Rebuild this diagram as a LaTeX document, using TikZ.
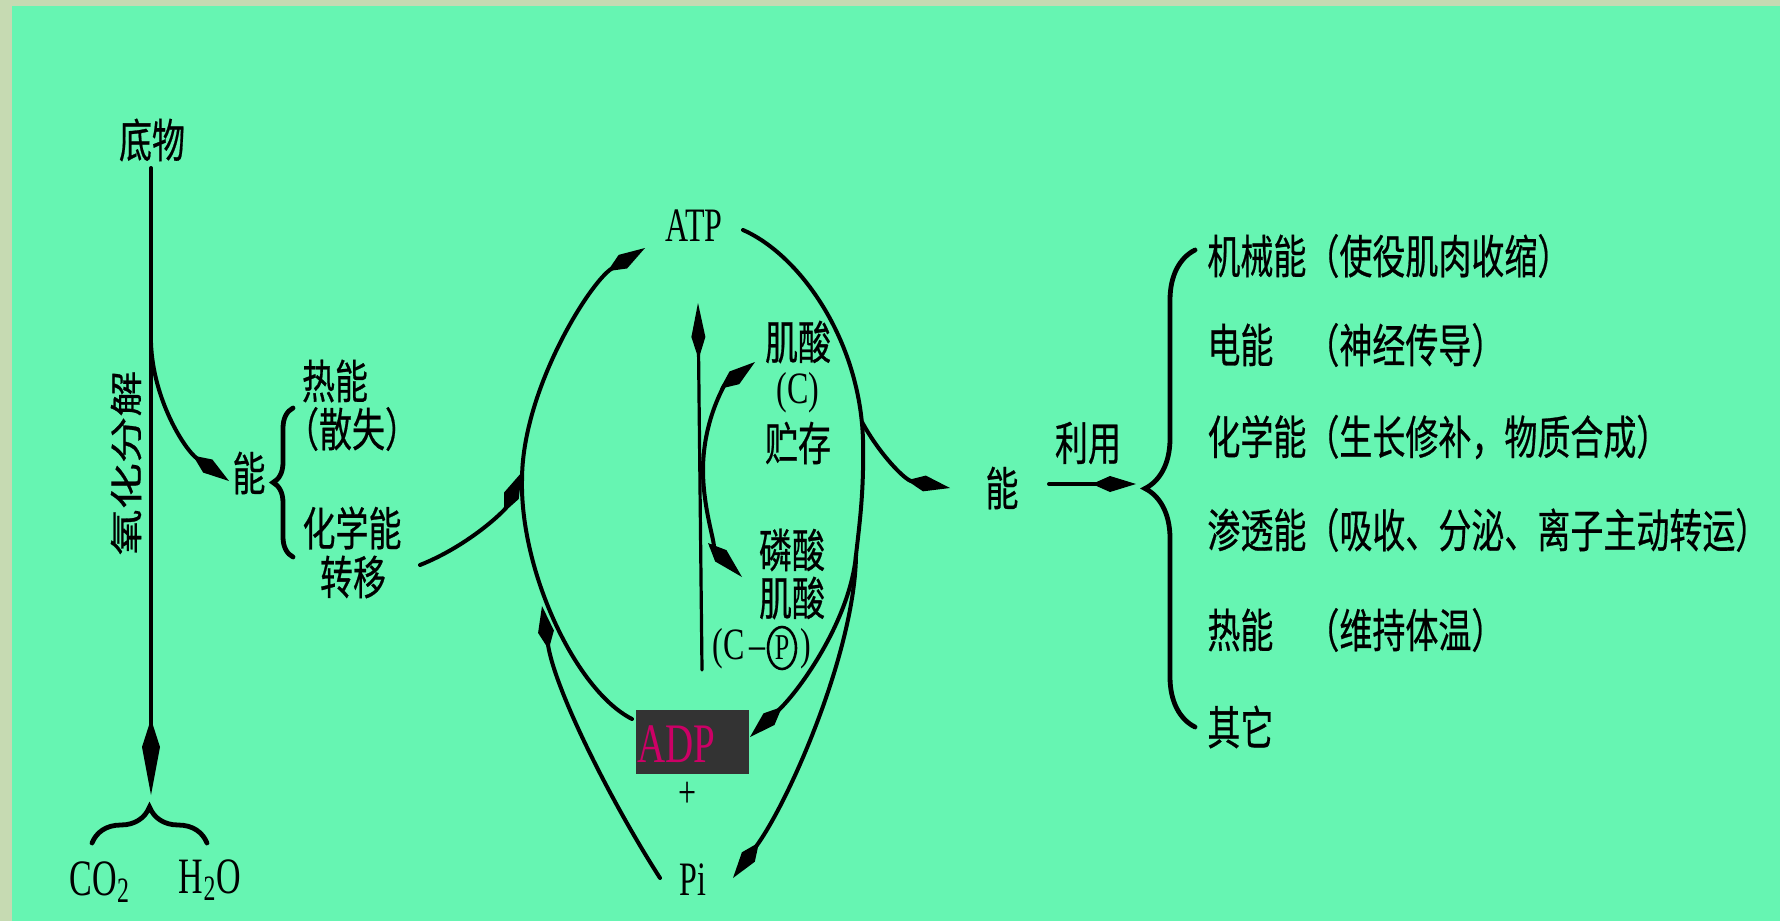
\documentclass[tikz,border=0pt]{standalone}
\usepackage{fontspec}
\usepackage{graphicx}
\setmainfont{Liberation Serif}
\newfontfamily\cjk[FakeBold=0.6]{Noto Sans CJK SC}
\usetikzlibrary{arrows.meta,decorations.pathreplacing,shapes.geometric}
\definecolor{bgg}{RGB}{102,245,178}
\definecolor{framec}{RGB}{198,218,178}
\definecolor{adpbox}{RGB}{51,51,51}
\definecolor{adptxt}{RGB}{204,0,102}
\newcommand\ST[1]{\scalebox{1}[1.4]{#1}}
\newcommand\SL[1]{\scalebox{1}[1.5]{#1}}
\begin{document}
\begin{tikzpicture}[x=0.5pt,y=-0.5pt,
  cj/.style={font=\cjk\fontsize{16.5pt}{20pt}\selectfont, inner sep=0pt},
  lt/.style={font=\fontsize{16pt}{19pt}\selectfont, inner sep=0pt},
  ln/.style={line width=2pt, line cap=round},
  ar/.style={ln, -{Kite[length=22pt,width=8pt,inset=9pt]}},
  arlong/.style={ln, -{Kite[length=38pt,width=9pt,inset=14pt]}},
  arthin/.style={line width=1.6pt, line cap=round, -{Kite[length=28pt,width=7pt,inset=11pt]}},
  br/.style={decorate, line width=2.4pt, line cap=round}
]
\useasboundingbox (0,0) rectangle (1780,921);
\fill[framec] (0,0) rectangle (1780,921);
\fill[bgg] (12,6) rectangle (1780,921);

% ---------- left part ----------
\node[cj] (sub) at (152,140) {\ST{底物}};
\node[cj, rotate=90] (ox) at (126,463) {\scalebox{1.4}[1]{氧化分解}};
\node[cj] (nengL) at (249,473) {\ST{能}};
\node[cj] (heat) at (335,381) {\ST{热能}};
\node[cj] (heat2) at (352,429) {\ST{（散失）}};
\node[cj] (chem) at (352,528) {\ST{化学能}};
\node[cj] (chem2) at (353,577) {\ST{转移}};
\node[lt, font=\fontsize{17pt}{19pt}\selectfont] (co2) at (100,882) {\SL{CO\textsubscript{2}}};
\node[lt, font=\fontsize{17pt}{19pt}\selectfont] (h2o) at (210,880) {\SL{H\textsubscript{2}O}};

\coordinate (v0) at (151,168);
\coordinate (vb) at (151,343);
\coordinate (v1) at (151,795);
\coordinate (nL) at (229,481);
\draw[arlong] (v0) -- (v1);
\draw[ar] (vb) .. controls (153,400) and (185,450) .. (nL);
\draw[br, decoration={brace, amplitude=10pt}] (293,557) -- (293,408);
\draw[br, decoration={brace, amplitude=18pt}] (92,843) -- (207,843);

% ---------- middle part ----------
\node[lt] (atp) at (694,226) {\SL{ATP}};
\node[cj] (cr1) at (798,342) {\ST{肌酸}};
\node[lt] (crc) at (798,393) {\ST{(C)}};
\node[cj] (cr3) at (798,443) {\ST{贮存}};
\node[cj] (pc1) at (792,550) {\ST{磷酸}};
\node[cj] (pc2) at (792,598) {\ST{肌酸}};
\node[lt] (cpa) at (739,649) {\ST{(C\,–}};
\node[draw, ellipse, line width=1.3pt, inner sep=0pt, minimum width=14pt, minimum height=21pt,
      font=\fontsize{13pt}{15pt}\selectfont] (cpp) at (782,648) {\ST{P}};
\node[lt] (cpc) at (806,649) {\ST{)}};

\node[fill=adpbox, anchor=north west, inner xsep=0.5pt, inner ysep=0pt,
      text width=55.5pt, align=left, minimum height=32pt,
      text height=20.5pt, text depth=0pt,
      text=adptxt, font=\fontsize{19.5pt}{21pt}\selectfont] (adp) at (636,710) {\scalebox{1}[1.43]{ADP}};
\node[lt] (plus) at (688,795) {\ST{+}};
\node[lt] (pi) at (693,880) {\SL{Pi}};

\coordinate (adpL) at (632,719);
\coordinate (elL) at (522,480);
\coordinate (atpL) at (645,248);
\draw[ar] (adpL) .. controls (575,690) and (520,570) .. (elL) .. controls (522,390) and (590,282) .. (atpL);

\coordinate (tr0) at (420,565);
\coordinate (tr1) at (522,472);
\draw[ar] (tr0) .. controls (470,545) and (505,510) .. (tr1);

\coordinate (piL) at (660,878);
\coordinate (piT) at (542,606);
\draw[ar] (piL) .. controls (610,800) and (555,690) .. (piT);

\coordinate (atpR) at (743,230);
\coordinate (rS) at (856,555);
\coordinate (rB) at (862,422);
\coordinate (nR) at (950,488);
\coordinate (adpR) at (750,737);
\coordinate (piR) at (733,878);
\draw[ln] (atpR) .. controls (800,255) and (860,340) .. (863,440) .. controls (864,490) and (860,520) .. (rS);
\draw[ar] (rS) .. controls (850,620) and (800,690) .. (adpR);
\draw[ar] (rS) .. controls (855,650) and (790,800) .. (piR);
\draw[ar] (rB) .. controls (880,455) and (905,480) .. (nR);

\coordinate (c0) at (702,670);
\coordinate (c1) at (698,303);
\draw[arthin] (c0) -- (c1);

\coordinate (sU) at (755,362);
\coordinate (sM) at (703,470);
\coordinate (sD) at (742,577);
\draw[ln, {Kite[length=22pt,width=8pt,inset=9pt]}-{Kite[length=24pt,width=8pt,inset=9pt]}]
  (sU) .. controls (725,385) and (703,420) .. (sM) .. controls (703,515) and (720,555) .. (sD);

% ---------- right part ----------
\node[cj] (nengR) at (1002,488) {\ST{能}};
\node[cj] (use) at (1088,443) {\ST{利用}};
\coordinate (u0) at (1049,484);
\coordinate (u1) at (1136,484);
\draw[ar] (u0) -- (u1);
\draw[br, decoration={brace, amplitude=25pt}] (1195,727) -- (1195,250);

\node[cj, anchor=west] (e1) at (1207,256) {\ST{机械能（使役肌肉收缩）}};
\node[cj, anchor=west] (e2) at (1207,345) {\ST{电能　（神经传导）}};
\node[cj, anchor=west] (e3) at (1207,437) {\ST{化学能（生长修补，物质合成）}};
\node[cj, anchor=west] (e4) at (1207,530) {\ST{渗透能（吸收、分泌、离子主动转运）}};
\node[cj, anchor=west] (e5) at (1207,630) {\ST{热能　（维持体温）}};
\node[cj, anchor=west] (e6) at (1207,727) {\ST{其它}};
\end{tikzpicture}
\end{document}
